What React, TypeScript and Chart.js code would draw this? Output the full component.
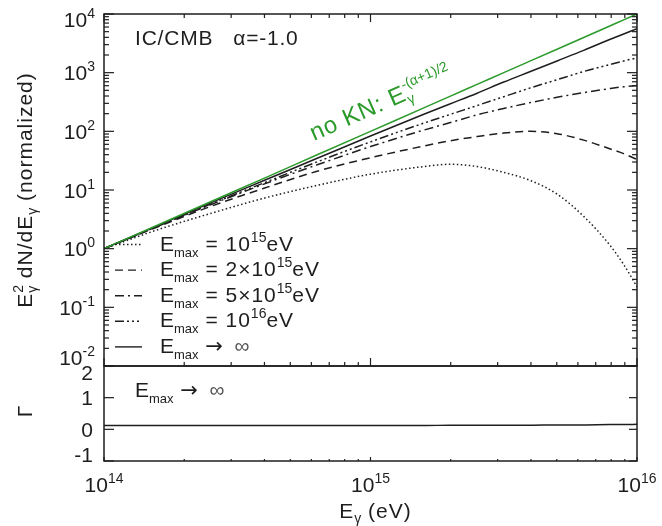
import React, { useEffect, useRef } from "react";
import { Chart, registerables } from "chart.js";

Chart.register(...registerables);

// ---------- data ----------
const energies = [1e14, 1.585e14, 2.512e14, 3.981e14, 6.31e14, 1e15, 1.585e15, 1.995e15, 2.512e15, 3.162e15, 3.981e15, 5.012e15, 6.31e15, 7.943e15, 8.913e15, 1e16];
const noKN = [1, 2.51, 6.31, 15.8, 39.8, 100, 251, 398, 631, 1000, 1585, 2512, 3981, 6310, 7943, 10000];
const emaxInf = [1, 2.45, 6.03, 14.5, 34.7, 83.2, 195, 295, 447, 692, 1047, 1585, 2399, 3715, 4571, 5623];
const emax1e16 = [1, 2.4, 5.75, 13.2, 30.2, 66.1, 138, 195, 275, 389, 550, 759, 1047, 1380, 1585, 1778];
const emax5e15 = [1, 2.4, 5.62, 12.6, 26.9, 55.0, 105, 141, 191, 245, 309, 380, 457, 537, 575, 603];
const emax2e15 = [1, 2.34, 5.25, 10.7, 20.9, 35.5, 56.2, 69.2, 81.3, 93.3, 100, 91.2, 70.8, 50.1, 41.7, 33.1];
const emax1e15 = [1, 2.09, 3.98, 7.24, 12.0, 18.6, 25.1, 27.5, 25.1, 20.0, 14.5, 8.51, 3.55, 1.12, 0.537, 0.224];
const gammaInf = [0.12, 0.12, 0.12, 0.12, 0.12, 0.12, 0.12, 0.13, 0.13, 0.13, 0.13, 0.14, 0.14, 0.15, 0.15, 0.16];

const xTickExps = [14, 15, 16];
const yTickExps = [-2, -1, 0, 1, 2, 3, 4];
const gammaTicks = [-1, 0, 1, 2];

const legendRows = [
  { main: " = 10", sup: "15", tail: "eV" },
  { main: " = 2\u00d710", sup: "15", tail: "eV" },
  { main: " = 5\u00d710", sup: "15", tail: "eV" },
  { main: " = 10", sup: "16", tail: "eV" },
  { main: "", sup: "", tail: "" },
];

// ---------- styles ----------
const FONT = '"Liberation Sans", Arial, Helvetica, sans-serif';
const ARROW_FONT = '"DejaVu Sans", sans-serif';
const INK = "#1e1e1e";
const GREEN = "#2b9a2b";
const DASHES: number[][] = [
  [1.5, 2.5],
  [8, 5],
  [9, 4, 2, 4],
  [9, 3, 2, 3, 2, 3, 2, 3],
  [],
];

type Seg = { t: string; s: number; dy?: number; stack?: boolean; ls?: number; f?: string; c?: string };

function setFont(ctx: CanvasRenderingContext2D, g: Seg) {
  ctx.font = `${g.s}px ${g.f || FONT}`;
  (ctx as any).letterSpacing = `${g.ls || 0}px`;
}

function richWidth(ctx: CanvasRenderingContext2D, segs: Seg[]) {
  let x = 0, prevStart = 0, end = 0;
  for (const g of segs) {
    setFont(ctx, g);
    const w = ctx.measureText(g.t).width;
    const start = g.stack ? prevStart : x;
    end = Math.max(end, start + w);
    x = g.stack ? Math.max(x, start + w) : start + w;
    prevStart = start;
  }
  return Math.max(x, end);
}

function drawRich(ctx: CanvasRenderingContext2D, x0: number, y0: number, segs: Seg[], align: "left" | "center" | "right" = "left") {
  const total = richWidth(ctx, segs);
  let x = align === "left" ? x0 : align === "center" ? x0 - total / 2 : x0 - total;
  let prevStart = x;
  ctx.textAlign = "left";
  ctx.textBaseline = "alphabetic";
  const base = ctx.fillStyle;
  for (const g of segs) {
    setFont(ctx, g);
    const w = ctx.measureText(g.t).width;
    const start = g.stack ? prevStart : x;
    ctx.fillStyle = g.c || base;
    ctx.fillText(g.t, start, y0 + (g.dy || 0));
    x = g.stack ? Math.max(x, start + w) : start + w;
    prevStart = start;
  }
  ctx.fillStyle = base;
  (ctx as any).letterSpacing = "0px";
}

const arrowInf = (): Seg[] => [
  { t: " \u2192", s: 21, f: ARROW_FONT, dy: 0 },
  { t: "  \u221e", s: 21, c: "#555" },
];

const pts = (vals: number[]) => energies.map((e, i) => ({ x: e, y: vals[i] }));

const overlay = {
  id: "overlay",
  afterDraw(chart: any) {
    const ctx: CanvasRenderingContext2D = chart.ctx;
    const xs = chart.scales.x;
    const ys = chart.scales.y;
    const g = chart.scales.y2;
    const L = xs.left, R = xs.right;
    ctx.save();
    ctx.strokeStyle = INK;
    ctx.fillStyle = INK;
    ctx.lineWidth = 1.5;
    ctx.setLineDash([]);
    // frames
    ctx.strokeRect(L, ys.top, R - L, ys.bottom - ys.top);
    ctx.strokeRect(L, g.top, R - L, g.bottom - g.top);

    const line = (x1: number, y1: number, x2: number, y2: number) => {
      ctx.beginPath();
      ctx.moveTo(x1, y1);
      ctx.lineTo(x2, y2);
      ctx.stroke();
    };
    ctx.lineWidth = 1.2;
    // y log ticks
    for (let i = 0; i < yTickExps.length; i++) {
      const e = yTickExps[i];
      const py = ys.getPixelForValue(Math.pow(10, e));
      line(L, py, L + 10, py);
      line(R, py, R - 10, py);
      if (i < yTickExps.length - 1) {
        for (let m = 2; m <= 9; m++) {
          const pm = ys.getPixelForValue(m * Math.pow(10, e));
          line(L, pm, L + 5, pm);
          line(R, pm, R - 5, pm);
        }
      }
    }
    // x log ticks
    for (let i = 0; i < xTickExps.length; i++) {
      const e = xTickExps[i];
      const px = xs.getPixelForValue(Math.pow(10, e));
      line(px, ys.top, px, ys.top + 8);
      line(px, ys.bottom, px, ys.bottom - 8);
      line(px, g.bottom, px, g.bottom - 4);
      if (i < xTickExps.length - 1) {
        for (let m = 2; m <= 9; m++) {
          const pm = xs.getPixelForValue(m * Math.pow(10, e));
          line(pm, ys.top, pm, ys.top + 4);
          line(pm, ys.bottom, pm, ys.bottom - 4);
          line(pm, g.bottom, pm, g.bottom - 2);
        }
      }
    }
    // gamma ticks
    for (const v of gammaTicks) {
      const py = g.getPixelForValue(v);
      line(L, py, L + 10, py);
      line(R, py, R - 8, py);
    }

    // tick labels
    for (const e of xTickExps) {
      const px = xs.getPixelForValue(Math.pow(10, e));
      drawRich(ctx, px, 492, [{ t: "10", s: 21 }, { t: String(e), s: 14, dy: -9 }], "center");
    }
    for (const e of yTickExps) {
      const py = ys.getPixelForValue(Math.pow(10, e));
      const base = Math.min(Math.max(py + 7.5, ys.top + 13), ys.bottom - 1);
      drawRich(ctx, 95, base, [{ t: "10", s: 21 }, { t: String(e), s: 14, dy: -9 }], "right");
    }
    for (const v of gammaTicks) {
      const py = g.getPixelForValue(v);
      const base = Math.min(Math.max(py + 7.5, g.top + 14), g.bottom + 1);
      drawRich(ctx, 93, base, [{ t: String(v), s: 21 }], "right");
    }

    // axis titles
    ctx.save();
    ctx.translate(32, 190);
    ctx.rotate(-Math.PI / 2);
    drawRich(ctx, 0, 0, [
      { t: "E", s: 21, ls: 1 },
      { t: "2", s: 14, dy: -9 },
      { t: "\u03b3", s: 14, dy: 5, stack: true },
      { t: " dN/dE", s: 21, ls: 1 },
      { t: "\u03b3", s: 14, dy: 5 },
      { t: " (normalized)", s: 21, ls: 1 },
    ], "center");
    ctx.restore();

    ctx.save();
    ctx.translate(32, (g.top + g.bottom) / 2 - 2);
    ctx.rotate(-Math.PI / 2);
    drawRich(ctx, 0, 0, [{ t: "\u0393", s: 21 }], "center");
    ctx.restore();

    drawRich(ctx, (L + R) / 2 + 5, 518, [{ t: "E", s: 21, ls: 1 }, { t: "\u03b3", s: 14, dy: 5 }, { t: " (eV)", s: 21, ls: 1 }], "center");

    // panel annotation
    drawRich(ctx, 135, 45, [{ t: "IC/CMB   \u03b1=-1.0", s: 21, ls: 0.8 }]);

    // green label along the line
    const x1 = xs.getPixelForValue(energies[0]);
    const y1 = ys.getPixelForValue(noKN[0]);
    const x2 = xs.getPixelForValue(energies[energies.length - 1]);
    const y2 = ys.getPixelForValue(noKN[noKN.length - 1]);
    const ang = Math.atan2(y2 - y1, x2 - x1);
    ctx.save();
    ctx.fillStyle = GREEN;
    ctx.translate(314, 141);
    ctx.rotate(ang);
    drawRich(ctx, 0, 0, [
      { t: "no KN: E", s: 24, ls: 0.8 },
      { t: "\u03b3", s: 14, dy: 5 },
      { t: "-(\u03b1+1)/2", s: 14, dy: -11, stack: true },
    ]);
    ctx.restore();

    // legend
    for (let i = 0; i < legendRows.length; i++) {
      const base = 250.5 + i * 25.6;
      ctx.save();
      ctx.lineWidth = 1.4;
      ctx.setLineDash(DASHES[i]);
      line(115, base - 6, 142, base - 6);
      ctx.restore();
      const r = legendRows[i];
      const segs: Seg[] = [{ t: "E", s: 21 }, { t: "max", s: 13, dy: 6 }];
      if (r.main) segs.push({ t: r.main, s: 21, ls: 1 });
      else segs.push(...arrowInf());
      if (r.sup) segs.push({ t: r.sup, s: 14, dy: -9 });
      if (r.tail) segs.push({ t: r.tail, s: 21, ls: 1 });
      drawRich(ctx, 160, base, segs);
    }
    drawRich(ctx, 135, 397, [{ t: "E", s: 21 }, { t: "max", s: 13, dy: 6 }, ...arrowInf()]);

    ctx.restore();
  },
};

export default function App() {
  const ref = useRef<HTMLCanvasElement | null>(null);
  useEffect(() => {
    if (!ref.current) return;
    const mk = (label: string, vals: number[], dash: number[], color = INK, axis = "y") => ({
      label,
      data: pts(vals),
      borderColor: color,
      borderWidth: 1.5,
      borderDash: dash,
      pointRadius: 0,
      fill: false,
      cubicInterpolationMode: "monotone" as const,
      yAxisID: axis,
    });
    const hidden = {
      display: true,
      ticks: { display: false },
      grid: { display: false, drawTicks: false },
      border: { display: false },
    };
    const chart = new Chart(ref.current, {
      type: "line",
      data: {
        datasets: [
          mk("no KN", noKN, [], GREEN),
          mk("Emax inf", emaxInf, DASHES[4]),
          mk("Emax 1e16", emax1e16, DASHES[3]),
          mk("Emax 5e15", emax5e15, DASHES[2]),
          mk("Emax 2e15", emax2e15, DASHES[1]),
          mk("Emax 1e15", emax1e15, DASHES[0]),
          mk("Gamma", gammaInf, [], INK, "y2"),
        ],
      },
      options: {
        animation: false,
        responsive: false,
        devicePixelRatio: 1,
        parsing: true,
        layout: { padding: { left: 104, right: 25, top: 14, bottom: 65 } },
        plugins: { legend: { display: false }, tooltip: { enabled: false } },
        scales: {
          x: { type: "logarithmic", min: 1e14, max: 1e16, position: "bottom", ...hidden },
          y: { type: "logarithmic", min: 1e-2, max: 1e4, position: "left", stack: "v", stackWeight: 352, weight: 1, ...hidden },
          y2: { type: "linear", min: -1, max: 2, position: "left", stack: "v", stackWeight: 95, weight: 0, ...hidden },
        },
      } as any,
      plugins: [overlay],
    });
    return () => chart.destroy();
  }, []);
  return (
    <div style={{ position: "fixed", left: 0, top: 0, width: 662, height: 526, background: "#fff" }}>
      <canvas ref={ref} width={662} height={526} style={{ display: "block" }} />
    </div>
  );
}
